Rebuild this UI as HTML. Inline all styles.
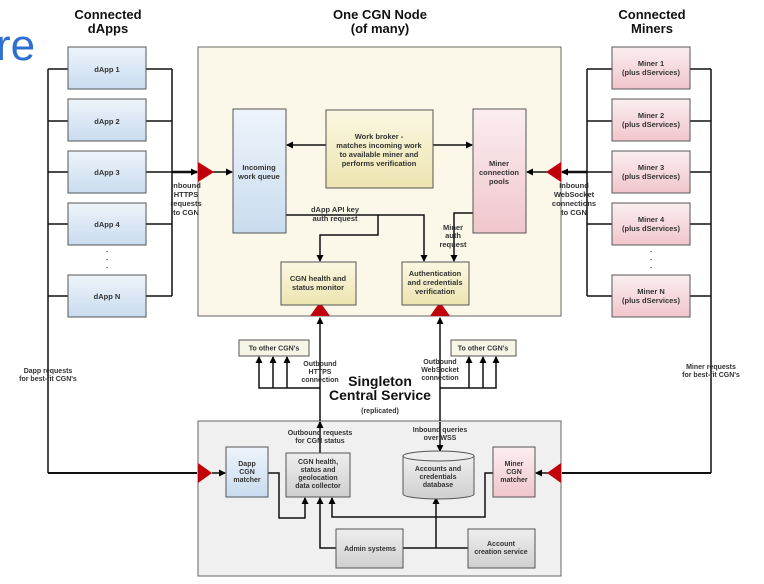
<!DOCTYPE html>
<html><head><style>body{margin:0;background:#fff;overflow:hidden}svg{display:block}text{font-family:"Liberation Sans",sans-serif}</style></head><body>
<svg width="764" height="584" viewBox="0 0 764 584" xmlns="http://www.w3.org/2000/svg">
<defs>
<linearGradient id="gb" x1="0" y1="0" x2="0" y2="1"><stop offset="0" stop-color="#eef4fb"/><stop offset="1" stop-color="#c9dcef"/></linearGradient>
<linearGradient id="gp" x1="0" y1="0" x2="0" y2="1"><stop offset="0" stop-color="#fbeef0"/><stop offset="1" stop-color="#f0c6cc"/></linearGradient>
<linearGradient id="gy" x1="0" y1="0" x2="0" y2="1"><stop offset="0" stop-color="#fbf8e2"/><stop offset="1" stop-color="#ede4b0"/></linearGradient>
<linearGradient id="gg" x1="0" y1="0" x2="0" y2="1"><stop offset="0" stop-color="#eeeeee"/><stop offset="1" stop-color="#cfcfcf"/></linearGradient>
<marker id="a" markerWidth="7" markerHeight="7" refX="6" refY="3.5" orient="auto" markerUnits="userSpaceOnUse"><path d="M0,0 L7,3.5 L0,7z" fill="#000"/></marker>
</defs>
<text x="-4" y="60" font-size="44" fill="#2f6fd1">re</text>
<g font-weight="bold" font-size="13" text-anchor="middle" fill="#111">
<text x="108" y="19">Connected</text><text x="108" y="33">dApps</text>
<text x="380" y="19">One CGN Node</text><text x="380" y="33">(of many)</text>
<text x="652" y="19">Connected</text><text x="652" y="33">Miners</text>
</g>
<rect x="198" y="47" width="363" height="269" fill="#fbf8ea" stroke="#666"/>
<rect x="198" y="421" width="363" height="155" fill="#f0f0f0" stroke="#666"/>
<g stroke="#111" stroke-width="1.5" fill="none">
<path d="M48,473 V69 M172,69 V296 M587,69 V296 M711,69 V473"/>
<path d="M48,69H68 M48,121H68 M48,172H68 M48,224H68 M48,296H68 M146,69H172 M146,121H172 M146,172H172 M146,224H172 M146,296H172"/>
<path d="M587,69H612 M587,121H612 M587,172H612 M587,224H612 M587,296H612 M690,69H711 M690,121H711 M690,172H711 M690,224H711 M690,296H711"/>
<path d="M172,172H197" stroke-width="2.5" marker-end="url(#a)"/>
<path d="M213,172H232" marker-end="url(#a)"/>
<path d="M587,172H562" stroke-width="2.5" marker-end="url(#a)"/>
<path d="M547,172H527" marker-end="url(#a)"/>
<path d="M326,145H287" marker-end="url(#a)"/>
<path d="M433,145H472" marker-end="url(#a)"/>
<path d="M286,215H378V235H320V261" marker-end="url(#a)"/>
<path d="M378,215H424V261" marker-end="url(#a)"/>
<path d="M473,213H454V261" marker-end="url(#a)"/>
<path d="M320,421V318" marker-end="url(#a)"/>
<path d="M440,421V318" marker-end="url(#a)"/>
<path d="M320,388H259V357" marker-end="url(#a)"/>
<path d="M273,388V357" marker-end="url(#a)"/><path d="M287,388V357" marker-end="url(#a)"/>
<path d="M440,388H496V357" marker-end="url(#a)"/>
<path d="M469,388V357" marker-end="url(#a)"/><path d="M483,388V357" marker-end="url(#a)"/>
<path d="M48,473H197" stroke-width="2"/>
<path d="M711,473H562" stroke-width="2"/>
<path d="M212,473H225" marker-end="url(#a)"/>
<path d="M548,473H536" marker-end="url(#a)"/>
<path d="M320,453V422" marker-end="url(#a)"/>
<path d="M440,422V451" marker-end="url(#a)"/>
<path d="M268,473H279V518H305V498" marker-end="url(#a)"/>
<path d="M493,473H485V517H332V498" marker-end="url(#a)"/>
<path d="M336,548H320V498" marker-end="url(#a)"/>
<path d="M403,548H468 M436,548V498" marker-end="url(#a)"/>
</g>
<g fill="#c0000b">
<path d="M198,162L214,172L198,182z"/><path d="M561,162L546,172L561,182z"/>
<path d="M310,316L320,302L330,316z"/><path d="M430,316L440,302L450,316z"/>
<path d="M198,463L212,473L198,483z"/><path d="M561,463L547,473L561,483z"/>
</g>
<g stroke="#555" stroke-width="1">
<rect x="68" y="47" width="78" height="42" fill="url(#gb)"/>
<rect x="68" y="99" width="78" height="42" fill="url(#gb)"/>
<rect x="68" y="151" width="78" height="42" fill="url(#gb)"/>
<rect x="68" y="203" width="78" height="42" fill="url(#gb)"/>
<rect x="68" y="275" width="78" height="42" fill="url(#gb)"/>
<rect x="612" y="47" width="78" height="42" fill="url(#gp)"/>
<rect x="612" y="99" width="78" height="42" fill="url(#gp)"/>
<rect x="612" y="151" width="78" height="42" fill="url(#gp)"/>
<rect x="612" y="203" width="78" height="42" fill="url(#gp)"/>
<rect x="612" y="275" width="78" height="42" fill="url(#gp)"/>
<rect x="233" y="109" width="53" height="124" fill="url(#gb)"/>
<rect x="326" y="110" width="107" height="78" fill="url(#gy)"/>
<rect x="473" y="109" width="53" height="124" fill="url(#gp)"/>
<rect x="281" y="262" width="75" height="43" fill="url(#gy)"/>
<rect x="402" y="262" width="67" height="43" fill="url(#gy)"/>
<rect x="239" y="340" width="70" height="16" fill="#f7f5e6"/>
<rect x="451" y="340" width="65" height="16" fill="#f7f5e6"/>
<rect x="226" y="447" width="42" height="50" fill="url(#gb)"/>
<rect x="286" y="453" width="64" height="44" fill="url(#gg)"/>
<path d="M403,456V494A35.5,5 0 0 0 474,494V456" fill="url(#gg)"/>
<ellipse cx="438.5" cy="456" rx="35.5" ry="5" fill="#eee"/>
<rect x="493" y="447" width="42" height="50" fill="url(#gp)"/>
<rect x="336" y="529" width="67" height="39" fill="url(#gg)"/>
<rect x="468" y="529" width="67" height="39" fill="url(#gg)"/>
</g>
<g font-size="7.5" font-weight="bold" text-anchor="middle" fill="#333">
<text x="107" y="72">dApp 1</text><text x="107" y="124">dApp 2</text><text x="107" y="175">dApp 3</text><text x="107" y="227">dApp 4</text><text x="107" y="299">dApp N</text>
<text x="107" y="252">.</text><text x="107" y="260">.</text><text x="107" y="268">.</text>
<text x="651" y="252">.</text><text x="651" y="260">.</text><text x="651" y="268">.</text>
<text x="651" y="66">Miner 1</text><text x="651" y="75">(plus dServices)</text>
<text x="651" y="118">Miner 2</text><text x="651" y="127">(plus dServices)</text>
<text x="651" y="170">Miner 3</text><text x="651" y="179">(plus dServices)</text>
<text x="651" y="222">Miner 4</text><text x="651" y="231">(plus dServices)</text>
<text x="651" y="294">Miner N</text><text x="651" y="303">(plus dServices)</text>
<text x="259" y="170">Incoming</text><text x="259" y="179">work queue</text>
<text x="379" y="139">Work broker -</text><text x="379" y="148">matches incoming work</text><text x="379" y="157">to available miner and</text><text x="379" y="166">performs verification</text>
<text x="499" y="166">Miner</text><text x="499" y="175">connection</text><text x="499" y="184">pools</text>
<text x="335" y="212">dApp API key</text><text x="335" y="221">auth request</text>
<text x="453" y="230">Miner</text><text x="453" y="238">auth</text><text x="453" y="247">request</text>
<text x="318" y="281">CGN health and</text><text x="318" y="290">status monitor</text>
<text x="435" y="276">Authentication</text><text x="435" y="285">and credentials</text><text x="435" y="294">verification</text>
<text x="186" y="188">Inbound</text><text x="186" y="197">HTTPS</text><text x="186" y="206">requests</text><text x="186" y="215">to CGN</text>
<text x="574" y="188">Inbound</text><text x="574" y="197">WebSocket</text><text x="574" y="206">connections</text><text x="574" y="215">to CGN</text>
</g>
<g font-size="7" font-weight="bold" text-anchor="middle" fill="#333">
<text x="274" y="350.5">To other CGN's</text><text x="483" y="350.5">To other CGN's</text>
<text x="320" y="366">Outbound</text><text x="320" y="374">HTTPS</text><text x="320" y="382">connection</text>
<text x="440" y="364">Outbound</text><text x="440" y="372">WebSocket</text><text x="440" y="380">connection</text>
<text x="48" y="373">Dapp requests</text><text x="48" y="381">for best-fit CGN's</text>
<text x="711" y="369">Miner requests</text><text x="711" y="377">for best-fit CGN's</text>
<text x="320" y="435">Outbound requests</text><text x="320" y="443">for CGN status</text>
<text x="440" y="432">Inbound queries</text><text x="440" y="440">over WSS</text>
<text x="247" y="466">Dapp</text><text x="247" y="474">CGN</text><text x="247" y="482">matcher</text>
<text x="514" y="466">Miner</text><text x="514" y="474">CGN</text><text x="514" y="482">matcher</text>
<text x="318" y="464">CGN health,</text><text x="318" y="472">status and</text><text x="318" y="480">geolocation</text><text x="318" y="488">data collector</text>
<text x="438" y="471">Accounts and</text><text x="438" y="479">credentials</text><text x="438" y="487">database</text>
<text x="370" y="551">Admin systems</text>
<text x="501" y="546">Account</text><text x="501" y="554">creation service</text>
<text x="380" y="413">(replicated)</text>
</g>
<g font-size="14" font-weight="bold" text-anchor="middle" fill="#111">
<text x="380" y="386">Singleton</text><text x="380" y="400">Central Service</text>
</g>
</svg>
</body></html>
